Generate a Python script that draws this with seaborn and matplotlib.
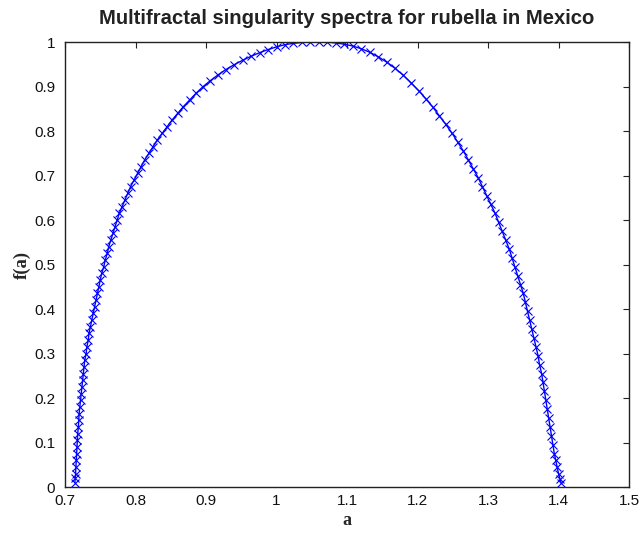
import matplotlib
matplotlib.use("Agg")
import matplotlib.pyplot as plt
import seaborn as sns
import pandas as pd

alpha = [0.714, 0.7145, 0.715, 0.7155, 0.716, 0.7165, 0.717, 0.7175, 0.718, 0.719,
         0.7195, 0.720, 0.721, 0.722, 0.723, 0.724, 0.725, 0.726, 0.727, 0.728,
         0.730, 0.731, 0.733, 0.734, 0.736, 0.738, 0.740, 0.742, 0.744, 0.746,
         0.748, 0.750, 0.752, 0.755, 0.757, 0.760, 0.762, 0.765, 0.768, 0.771,
         0.774, 0.777, 0.781, 0.785, 0.789, 0.793, 0.798, 0.803, 0.808, 0.813,
         0.819, 0.825, 0.831, 0.838, 0.845, 0.852, 0.860, 0.868, 0.877, 0.886,
         0.896, 0.906, 0.917, 0.928, 0.940, 0.952, 0.964, 0.976, 0.988, 1.000,
         1.012, 1.024, 1.036, 1.048, 1.060, 1.072, 1.084, 1.096, 1.108, 1.120,
         1.132, 1.144, 1.156, 1.168, 1.180, 1.191, 1.202, 1.212, 1.222, 1.231,
         1.240, 1.249, 1.257, 1.265, 1.272, 1.279, 1.286, 1.292, 1.298, 1.304,
         1.310, 1.315, 1.320, 1.325, 1.330, 1.334, 1.338, 1.342, 1.346, 1.350,
         1.353, 1.356, 1.359, 1.362, 1.365, 1.368, 1.371, 1.373, 1.376, 1.378,
         1.380, 1.382, 1.384, 1.386, 1.388, 1.390, 1.392, 1.394, 1.396, 1.398,
         1.400, 1.402, 1.404]
f_alpha = [0.01, 0.02, 0.03, 0.045, 0.06, 0.075, 0.09, 0.105, 0.12, 0.135,
           0.15, 0.165, 0.18, 0.195, 0.21, 0.225, 0.24, 0.255, 0.27, 0.285,
           0.30, 0.315, 0.33, 0.345, 0.36, 0.375, 0.39, 0.405, 0.42, 0.435,
           0.45, 0.465, 0.48, 0.495, 0.51, 0.525, 0.54, 0.555, 0.57, 0.585,
           0.60, 0.615, 0.63, 0.645, 0.66, 0.675, 0.69, 0.705, 0.72, 0.735,
           0.75, 0.765, 0.78, 0.795, 0.81, 0.825, 0.84, 0.855, 0.87, 0.885,
           0.90, 0.913, 0.926, 0.938, 0.949, 0.959, 0.968, 0.976, 0.983, 0.989,
           0.994, 0.997, 0.999, 1.0, 1.0, 0.9995, 0.998, 0.995, 0.991, 0.985,
           0.977, 0.967, 0.955, 0.941, 0.925, 0.908, 0.89, 0.872, 0.853, 0.834,
           0.815, 0.795, 0.775, 0.755, 0.735, 0.715, 0.695, 0.675, 0.655, 0.635,
           0.615, 0.595, 0.575, 0.555, 0.535, 0.515, 0.495, 0.475, 0.455, 0.435,
           0.415, 0.395, 0.375, 0.355, 0.335, 0.315, 0.295, 0.275, 0.255, 0.235,
           0.215, 0.195, 0.175, 0.155, 0.135, 0.115, 0.095, 0.075, 0.060, 0.045,
           0.030, 0.018, 0.008]

x_ticks = [0.7, 0.8, 0.9, 1.0, 1.1, 1.2, 1.3, 1.4, 1.5]
x_tick_labels = ["0.7", "0.8", "0.9", "1", "1.1", "1.2", "1.3", "1.4", "1.5"]
y_ticks = [0, 0.1, 0.2, 0.3, 0.4, 0.5, 0.6, 0.7, 0.8, 0.9, 1.0]
y_tick_labels = ["0", "0.1", "0.2", "0.3", "0.4", "0.5", "0.6", "0.7", "0.8", "0.9", "1"]

df = pd.DataFrame({"a": alpha, "f": f_alpha})

sns.set_style("white")
plt.rcParams['font.family'] = ['Liberation Sans', 'DejaVu Sans']

fig = plt.figure(figsize=(6.43, 5.33), dpi=100)
ax = fig.add_axes([0.1011, 0.0863, 0.8772, 0.8349])

sns.lineplot(data=df, x="a", y="f", sort=False, estimator=None, ax=ax,
             color=(0, 0, 1), linewidth=1.0, marker="x", markersize=5.5,
             markeredgewidth=0.8, markeredgecolor=(0, 0, 1))

ax.set_xlim(0.7, 1.5)
ax.set_ylim(0, 1)
ax.set_xticks(x_ticks)
ax.set_xticklabels(x_tick_labels)
ax.set_yticks(y_ticks)
ax.set_yticklabels(y_tick_labels)
ax.tick_params(direction="in", length=4, width=0.8, labelsize=11,
               top=True, right=True, colors="#222222", labelcolor="#111111")
ax.tick_params(axis="x", pad=5)
ax.tick_params(axis="y", pad=7)
for s in ax.spines.values():
    s.set_visible(True)
    s.set_color("#222222")
    s.set_linewidth(1.0)

ax.set_title("Multifractal singularity spectra for rubella in Mexico",
             fontsize=14.6, fontweight="bold", pad=13, color="#222222")
ax.set_xlabel("a", family=["Liberation Serif"], fontweight="bold", fontsize=13, labelpad=3)
ax.set_ylabel("f(a)", family=["Liberation Serif"], fontweight="bold", fontsize=13.5, labelpad=2)

fig.savefig("out.png", dpi=100)
